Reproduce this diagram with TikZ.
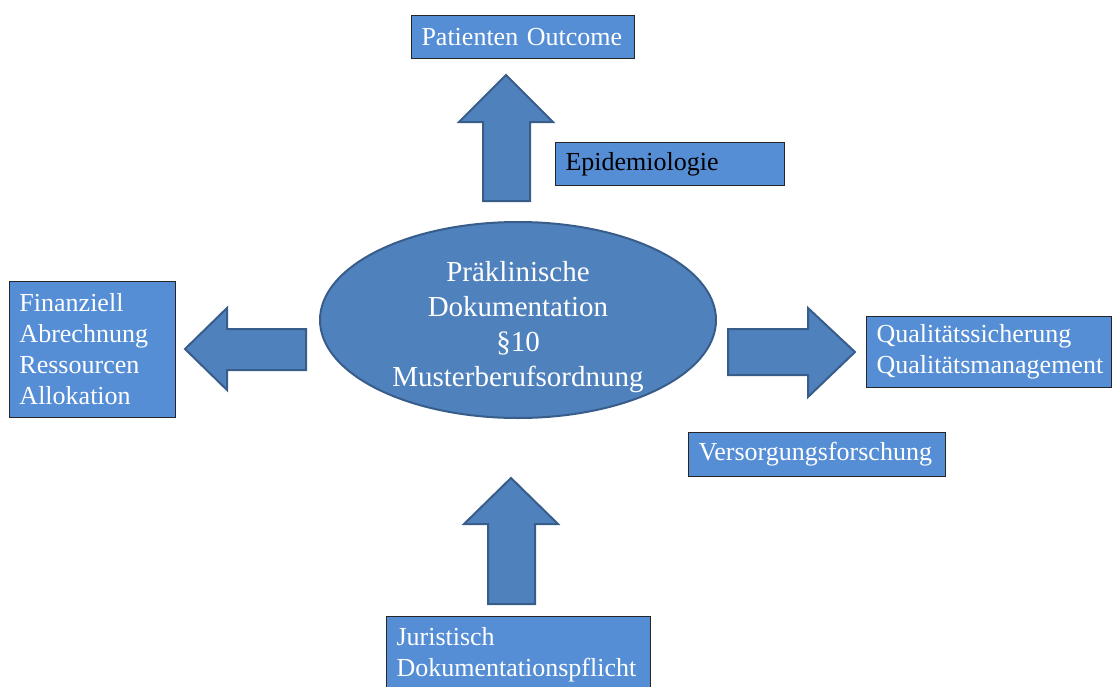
\documentclass[tikz,border=0pt]{standalone}
\usepackage{fontspec}
\setmainfont{Liberation Serif}
\definecolor{boxblue}{HTML}{558ED5}
\definecolor{ovalblue}{HTML}{4F81BD}
\definecolor{ovalline}{HTML}{385D8A}

\begin{document}
\begin{tikzpicture}[x=1pt, y=-1pt,
				infobox/.style={draw=black!85, line width=1pt, fill=boxblue, text=white, align=left, anchor=north west, inner xsep=10pt, inner ysep=0pt, font=\fontsize{26}{31}\selectfont},
				bigarrow/.style={draw=ovalline, fill=ovalblue, line width=2pt, line join=miter}
				]
				
				\useasboundingbox (0, 0) rectangle (1112, 686);
				
				\draw[draw=ovalline, line width=2pt, fill=ovalblue] (518, 320) ellipse [x radius=198, y radius=98];
				\node[text=white, align=center, font=\fontsize{29}{35}\selectfont] (doku) at (518, 327) {Präklinische\\Dokumentation\\§10\\Musterberufsordnung};
				
				\node[infobox, text width=203pt, minimum height=43pt] (outcome) at (411, 15) {Patienten Outcome};
				\node[infobox, text width=209pt, minimum height=43pt, text=black] (epi) at (555, 142) {Epidemiologie};
				\node[infobox, text width=146pt, minimum height=136pt] (finanz) at (9, 281) {Finanziell\\Abrechnung\\Ressourcen\\Allokation};
				\node[infobox, text width=225pt, minimum height=71pt] (quali) at (866, 316) {Qualitätssicherung\\Qualitätsmanagement};
				\node[infobox, text width=237pt, minimum height=44pt] (versorgung) at (688, 432) {Versorgungsforschung};
				\node[infobox, text width=244pt, inner ysep=11pt] (jura) at (386, 616) {Juristisch\\Dokumentationspflicht};
				
				% Blockpfeile
				\draw[bigarrow] (483, 201) -- (483, 122) -- (459, 122) -- (506, 75) -- (553, 122) -- (530, 122) -- (530, 201) -- cycle;
				\draw[bigarrow] (306, 329) -- (227, 329) -- (227, 308) -- (185, 349) -- (227, 390) -- (227, 370) -- (306, 370) -- cycle;
				\draw[bigarrow] (728, 329) -- (808, 329) -- (808, 308) -- (855, 352) -- (808, 397) -- (808, 375) -- (728, 375) -- cycle;
				\draw[bigarrow] (488, 604) -- (488, 524) -- (464, 524) -- (511, 478) -- (558, 524) -- (535, 524) -- (535, 604) -- cycle;
			\end{tikzpicture}
\end{document}
